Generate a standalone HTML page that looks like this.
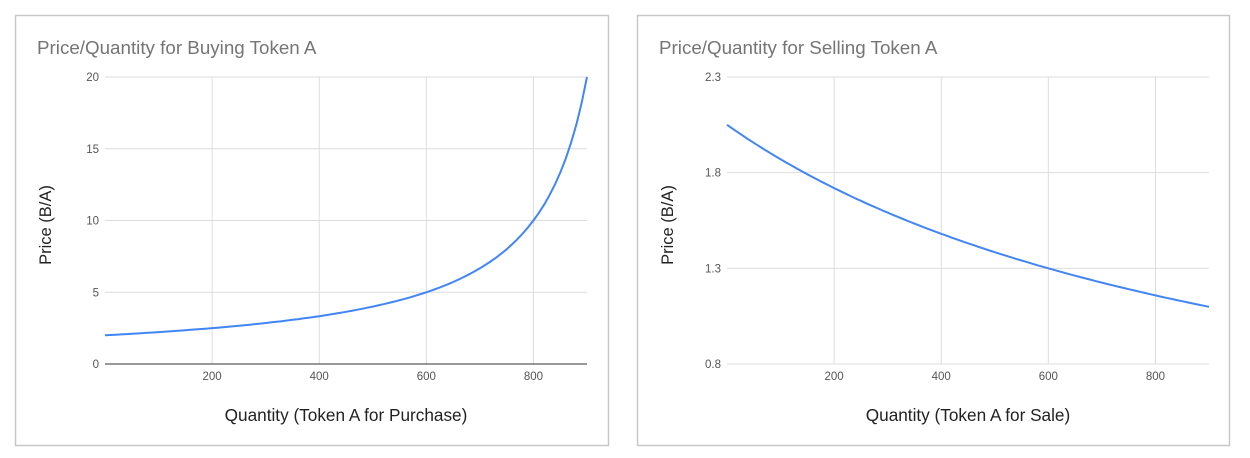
<!DOCTYPE html>
<html><head><meta charset="utf-8"><style>
body{margin:0;background:#fff;width:1250px;height:458px;overflow:hidden}
svg{display:block}
text{font-family:"Liberation Sans",Arial,sans-serif}
</style></head><body>
<svg id="s" width="1250" height="458" viewBox="0 0 1250 458">
<rect x="15.5" y="15.5" width="593" height="430" fill="#fff" stroke="#c8c8c8" stroke-width="1.5"/>
<rect x="637.5" y="15.5" width="592" height="430" fill="#fff" stroke="#c8c8c8" stroke-width="1.5"/>
<g id="g"></g>
<text x="37" y="54" font-size="18.8" fill="#757575">Price/Quantity for Buying Token A</text>
<text x="659" y="54" font-size="18.8" fill="#757575">Price/Quantity for Selling Token A</text>
<text transform="translate(51,225) rotate(-90)" text-anchor="middle" font-size="16.5" fill="#222">Price (B/A)</text>
<text transform="translate(673,225) rotate(-90)" text-anchor="middle" font-size="16.5" fill="#222">Price (B/A)</text>
<text x="346" y="421" text-anchor="middle" font-size="17.2" fill="#222">Quantity (Token A for Purchase)</text>
<text x="968" y="421" text-anchor="middle" font-size="17.2" fill="#222">Quantity (Token A for Sale)</text>
</svg>
<script>
var g=document.getElementById('g'),h='';
function chart(x0,x1,y0,y1,vmin,vmax,yt,ylab,f,step){
  var sx=function(v){return x0+(x1-x0)*v/900},sy=function(v){return y1-(y1-y0)*(v-vmin)/(vmax-vmin)};
  [200,400,600,800].forEach(function(v){var x=sx(v);h+='<line x1="'+x+'" x2="'+x+'" y1="'+y0+'" y2="'+y1+'" stroke="#ddd"/>';
   h+='<text x="'+x+'" y="'+(y1+16)+'" text-anchor="middle" font-size="11.5" fill="#555">'+v+'</text>';});
  yt.forEach(function(v,i){var y=sy(v);h+='<line x1="'+x0+'" x2="'+x1+'" y1="'+y+'" y2="'+y+'" stroke="'+(i==0&&vmin==0?'#333':'#ddd')+'"/>';
   h+='<text x="'+(x0-6)+'" y="'+(y+4)+'" text-anchor="end" font-size="11.5" fill="#555">'+ylab[i]+'</text>';});
  var p='';for(var v=0;v<=900;v+=step){p+=(v?'L':'M')+sx(v).toFixed(1)+','+sy(f(v)).toFixed(1);}
  h+='<path d="'+p+'" fill="none" stroke="#4285f4" stroke-width="2" stroke-linejoin="round"/>';
}
chart(105,587,77,364,0,20,[0,5,10,15,20],['0','5','10','15','20'],function(x){return 2000/(1000-x)},10);
chart(727,1209,77,364,0.8,2.3,[0.8,1.3,1.8,2.3],['0.8','1.3','1.8','2.3'],function(x){return 2132/(x+1040)},10);
g.innerHTML=h;
</script>
</body></html>
